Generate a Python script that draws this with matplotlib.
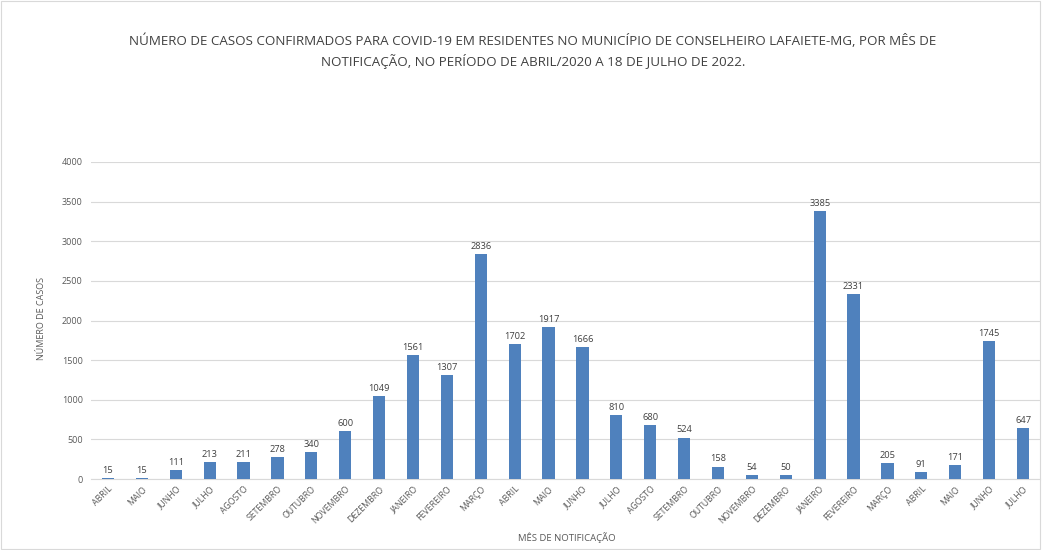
import matplotlib.pyplot as plt
import numpy as np

months = ["ABRIL", "MAIO", "JUNHO", "JULHO", "AGOSTO", "SETEMBRO", "OUTUBRO", "NOVEMBRO",
          "DEZEMBRO", "JANEIRO", "FEVEREIRO", "MARÇO", "ABRIL", "MAIO", "JUNHO", "JULHO",
          "AGOSTO", "SETEMBRO", "OUTUBRO", "NOVEMBRO", "DEZEMBRO", "JANEIRO", "FEVEREIRO",
          "MARÇO", "ABRIL", "MAIO", "JUNHO", "JULHO"]
cases = [15, 15, 111, 213, 211, 278, 340, 600, 1049, 1561, 1307, 2836, 1702, 1917, 1666,
         810, 680, 524, 158, 54, 50, 3385, 2331, 205, 91, 171, 1745, 647]
yticks = [0, 500, 1000, 1500, 2000, 2500, 3000, 3500, 4000]

title = ("NÚMERO DE CASOS CONFIRMADOS PARA COVID-19 EM RESIDENTES NO MUNICÍPIO DE CONSELHEIRO LAFAIETE-MG, POR MÊS DE\n"
         "NOTIFICAÇÃO, NO PERÍODO DE ABRIL/2020 A 18 DE JULHO DE 2022.")

plt.rcParams['font.family'] = ['Open Sans', 'DejaVu Sans']
fig = plt.figure(figsize=(10.49, 5.5), dpi=100)
ax = fig.add_axes([0.0868, 0.129, 0.9046, 0.5765])

x = np.arange(len(cases))
bars = ax.bar(x, cases, width=0.36, color='#4F81BD', zorder=3)
for xi, v in zip(x, cases):
    ax.text(xi, v + 40, str(v), ha='center', va='bottom', fontsize=6.7, color='#404040')

ax.set_xlim(-0.5, len(cases) - 0.5)
ax.set_ylim(0, 4000)
ax.set_yticks(yticks)
ax.set_yticklabels([str(t) for t in yticks], fontsize=6.5, color='#595959')
ax.set_xticks(x)
ax.set_xticklabels(months, rotation=45, ha='right', rotation_mode='anchor', fontsize=6.3, color='#595959')
ax.tick_params(axis='both', length=0, pad=6)
ax.tick_params(axis='x', pad=4)
ax.grid(axis='y', color='#d9d9d9', linewidth=0.8, zorder=0)
for s in ['top', 'right', 'left']:
    ax.spines[s].set_visible(False)
ax.spines['bottom'].set_color('#d9d9d9')

fig.text(0.508, 0.907, title, ha='center', va='center', fontsize=9.65, color='#404040', linespacing=1.45)
fig.text(0.04, 0.42, "NÚMERO DE CASOS", rotation=90, ha='center', va='center', fontsize=6.5, color='#595959')
fig.text(0.54, 0.022, "MÊS DE NOTIFICAÇÃO", ha='center', va='center', fontsize=6.8, color='#595959')

fig.add_artist(plt.Rectangle((0.001, 0.001), 0.9905, 0.997, transform=fig.transFigure,
                             fill=False, edgecolor='#d9d9d9', linewidth=0.8))

fig.savefig('out.png', dpi=100, facecolor='white')
